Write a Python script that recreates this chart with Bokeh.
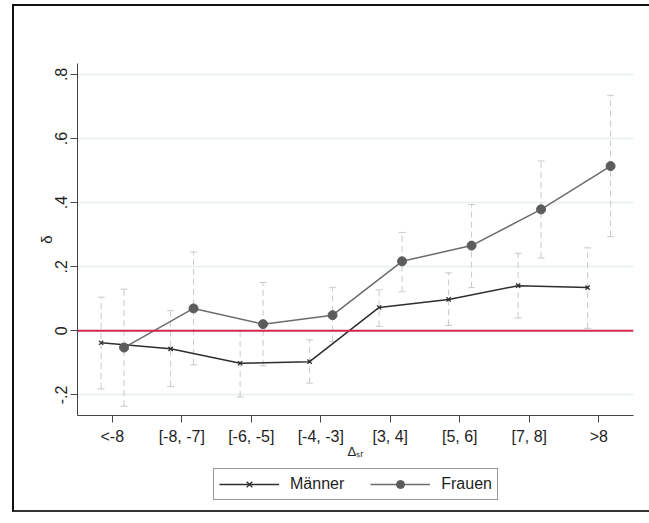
from bokeh.plotting import figure
from bokeh.layouts import column
from bokeh.models import (FactorRange, Range1d, ColumnDataSource, Span, Legend,
                          LegendItem, FixedTicker)
from bokeh.transform import dodge
from bokeh.embed import file_html
from bokeh.resources import INLINE

# ---- data ----
categories = ["<-8", "[-8, -7]", "[-6, -5]", "[-4, -3]", "[3, 4]", "[5, 6]", "[7, 8]", ">8"]
maenner = [-0.037, -0.056, -0.101, -0.096, 0.073, 0.098, 0.141, 0.135]
maenner_lo = [-0.181, -0.174, -0.206, -0.163, 0.014, 0.017, 0.040, 0.008]
maenner_hi = [0.105, 0.063, 0.000, -0.028, 0.128, 0.181, 0.242, 0.259]
frauen = [-0.052, 0.070, 0.021, 0.049, 0.217, 0.266, 0.379, 0.514]
frauen_lo = [-0.235, -0.106, -0.109, -0.033, 0.122, 0.135, 0.227, 0.294]
frauen_hi = [0.130, 0.246, 0.151, 0.136, 0.307, 0.394, 0.530, 0.735]
y_ticks = [-0.2, 0.0, 0.2, 0.4, 0.6, 0.8]
y_tick_labels = ["-.2", "0", ".2", ".4", ".6", ".8"]
series_names = ["Männer", "Frauen"]
reference_value = 0.0

src = ColumnDataSource(dict(cat=categories, m=maenner, m_lo=maenner_lo, m_hi=maenner_hi,
                            f=frauen, f_lo=frauen_lo, f_hi=frauen_hi))

FONT = "Liberation Sans"
TXT = "#1e1e1e"
M_COL, F_COL, F_MARK = "#2e2e2e", "#6c6c6c", "#5c5c5c"

W = 637
H1, H2 = 461, 43
x_range = FactorRange(*categories, range_padding=0, factor_padding=0)
p = figure(x_range=x_range, y_range=Range1d(-0.264, 0.834),
           width=W, height=H1,
           output_backend="svg", toolbar_location=None,
           min_border_left=63, min_border_right=18, min_border_top=57, min_border_bottom=52,
           background_fill_color="white", border_fill_color="white",
           outline_line_color=None)

# grids
p.xgrid.visible = False
p.ygrid.grid_line_color = "#e5eef0"
p.ygrid.grid_line_width = 1.5

# axes
for ax in (p.xaxis[0], p.yaxis[0]):
    ax.axis_line_color = "#444444"
    ax.axis_line_width = 1
    ax.major_tick_line_color = "#444444"
    ax.major_tick_out = 7
    ax.major_tick_in = 0
    ax.minor_tick_line_color = None
    ax.major_label_text_font = FONT
    ax.major_label_text_font_size = "16px"
    ax.major_label_text_color = TXT
    ax.axis_label_text_font = FONT
    ax.axis_label_text_font_style = "normal"
    ax.axis_label_text_color = TXT

p.yaxis.ticker = FixedTicker(ticks=y_ticks)
p.yaxis.major_label_overrides = dict(zip(y_ticks, y_tick_labels))
p.yaxis.major_label_orientation = "vertical"
p.yaxis.major_label_standoff = 3
p.yaxis.axis_label = "δ"
p.yaxis.axis_label_text_font_size = "15px"
p.yaxis.axis_label_standoff = -2

p.xaxis.major_label_standoff = 5
p.xaxis.axis_label = "Δₛᵣ"
p.xaxis.axis_label_text_font_size = "13px"
p.xaxis.axis_label_standoff = -4

m_x = dodge("cat", -0.16, range=x_range)
f_x = dodge("cat", 0.17, range=x_range)

ERR = "#c9c9c9"
# error bars
for xx, lo, hi in ((m_x, "m_lo", "m_hi"), (f_x, "f_lo", "f_hi")):
    p.segment(x0=xx, y0=lo, x1=xx, y1=hi, source=src, line_color=ERR,
              line_width=1, line_dash="6 4")
    p.scatter(x=xx, y=lo, source=src, marker="dash", size=7, line_color=ERR, line_width=1)
    p.scatter(x=xx, y=hi, source=src, marker="dash", size=7, line_color=ERR, line_width=1)

zero = Span(location=reference_value, dimension="width", line_color="#d52650",
            line_width=2, level="glyph")
p.add_layout(zero)

def draw_series(fig):
    ml = fig.line(x=m_x, y="m", source=src, line_color=M_COL, line_width=1.5)
    mp = fig.scatter(x=m_x, y="m", source=src, marker="x", size=6,
                     line_color=M_COL, line_width=1.3)
    fl = fig.line(x=f_x, y="f", source=src, line_color=F_COL, line_width=1.5)
    fp = fig.scatter(x=f_x, y="f", source=src, marker="circle", size=9,
                     fill_color=F_MARK, line_color=F_MARK)
    return ml, mp, fl, fp

draw_series(p)

# ---- legend strip below the chart (same series, kept out of its view) ----
lg = figure(width=W, height=H2, x_range=x_range, y_range=Range1d(10, 11),
            output_backend="svg", toolbar_location=None,
            x_axis_location=None, y_axis_location=None,
            min_border_left=63, min_border_right=18, min_border_top=0, min_border_bottom=0,
            background_fill_color="white", border_fill_color="white",
            outline_line_color=None)
lg.xgrid.visible = False
lg.ygrid.visible = False
lm_line, lm_pts, lf_line, lf_pts = draw_series(lg)

legend = Legend(items=[LegendItem(label=series_names[0], renderers=[lm_line, lm_pts]),
                       LegendItem(label=series_names[1], renderers=[lf_line, lf_pts])],
                orientation="horizontal", location=(136, 10),
                padding=5, spacing=26, glyph_width=60, glyph_height=20,
                label_standoff=11, label_height=16, label_width=0, margin=0,
                border_line_color="#333333", border_line_width=1,
                background_fill_color="white",
                label_text_font=FONT, label_text_font_size="16px", label_text_color=TXT)
lg.add_layout(legend, "center")

page = column(p, lg, spacing=0,
              styles={"margin-left": "12px", "margin-top": "4px",
                      "border-left": "2px solid #111111",
                      "border-top": "2px solid #111111",
                      "border-bottom": "2px solid #333333",
                      "border-right": "none"})

open("out.html", "w").write(file_html(page, INLINE))
